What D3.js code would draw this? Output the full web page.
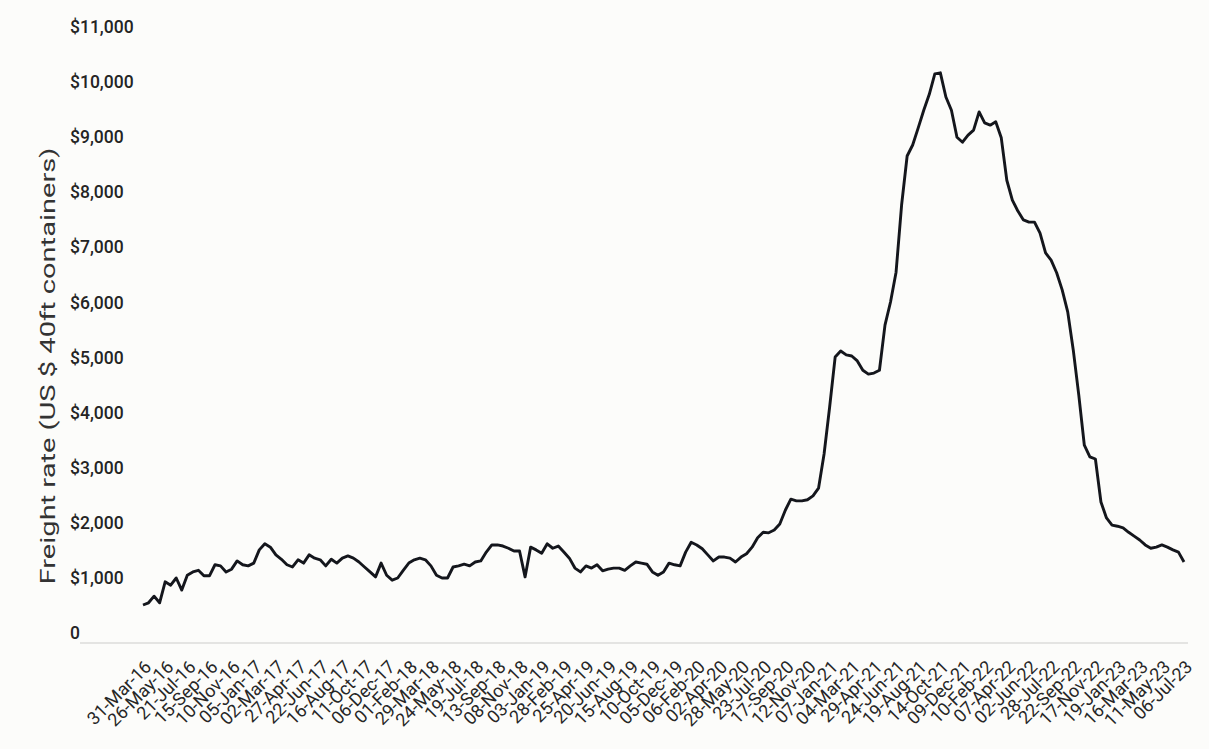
<!DOCTYPE html>
<html>
<head>
<meta charset="utf-8">
<script src="https://cdn.jsdelivr.net/npm/d3@7"></script>
<style>
  body { margin: 0; background: #fcfcfa; }
  svg { display: block; font-family: Roboto, "Noto Sans", sans-serif; }
</style>
</head>
<body>
<div id="chart"></div>
<script>
// Tick labels of the category axis (one every 8 weeks)
var tickLabels = ['31-Mar-16','26-May-16','21-Jul-16','15-Sep-16','10-Nov-16','05-Jan-17','02-Mar-17','27-Apr-17',
  '22-Jun-17','16-Aug-17','11-Oct-17','06-Dec-17','01-Feb-18','29-Mar-18','24-May-18','19-Jul-18',
  '13-Sep-18','08-Nov-18','03-Jan-19','28-Feb-19','25-Apr-19','20-Jun-19','15-Aug-19','10-Oct-19',
  '05-Dec-19','06-Feb-20','02-Apr-20','28-May-20','23-Jul-20','17-Sep-20','12-Nov-20','07-Jan-21',
  '04-Mar-21','29-Apr-21','24-Jun-21','19-Aug-21','14-Oct-21','09-Dec-21','10-Feb-22','07-Apr-22',
  '02-Jun-22','28-Jul-22','22-Sep-22','17-Nov-22','19-Jan-23','16-Mar-23','11-May-23','06-Jul-23'];

// Freight rate, US $ per 40ft container, read every two weeks off the chart
var rates = [
  690, 730, 850, 730, 1110, 1050, 1180, 960, 1230, 1290, 1320, 1220, 1220, 1420, 1400, 1290,
  1340, 1490, 1420, 1400, 1450, 1690, 1800, 1740, 1600, 1520, 1420, 1380, 1510, 1450, 1600, 1540,
  1510, 1400, 1520, 1450, 1540, 1580, 1540, 1470, 1380, 1290, 1200, 1450, 1230, 1140, 1180, 1320,
  1450, 1510, 1540, 1510, 1400, 1230, 1180, 1180, 1380, 1400, 1430, 1400, 1470, 1490, 1650, 1780,
  1780, 1760, 1720, 1670, 1670, 1200, 1740, 1690, 1630, 1800, 1720, 1760, 1650, 1540, 1360, 1290,
  1400, 1360, 1420, 1310, 1340, 1360, 1360, 1320, 1400, 1470, 1450, 1430, 1290, 1230, 1290, 1450,
  1420, 1400, 1650, 1830, 1780, 1710, 1600, 1490, 1560, 1560, 1540, 1470, 1560, 1620, 1740, 1910,
  2010, 2000, 2050, 2160, 2410, 2610, 2580, 2580, 2600, 2670, 2810, 3430, 4280, 5190, 5300, 5230,
  5210, 5120, 4950, 4880, 4900, 4950, 5770, 6190, 6730, 7950, 8840, 9040, 9350, 9670, 9960, 10330,
  10350, 9910, 9670, 9180, 9090, 9220, 9310, 9640, 9440, 9400, 9460, 9170, 8400, 8040, 7840, 7680,
  7640, 7640, 7440, 7080, 6950, 6720, 6410, 6010, 5320, 4500, 3590, 3380, 3340, 2560, 2270, 2140,
  2120, 2090, 2010, 1940, 1870, 1780, 1720, 1740, 1780, 1740, 1690, 1650, 1470];

var yTicks = [0, 1000, 2000, 3000, 4000, 5000, 6000, 7000, 8000, 9000, 10000, 11000];
var yTitle = 'Freight rate (US $ 40ft containers)';

// Tamanho do svg
var w = 1209, h = 749;
var plot = {left: 143, right: 1184, top: 37, bottom: 643};

var svg = d3.select('#chart')
  .append('svg')
  .attr('width', w)
  .attr('height', h);

// Scales
var x = d3.scaleLinear()
  .domain([0, rates.length - 1])
  .range([plot.left, plot.right]);

var y = d3.scaleLinear()
  .domain([0, 11000])
  .range([plot.bottom, plot.top]);

var step = (rates.length - 1) / (tickLabels.length - 1);

// Eixo y (labels left aligned, no ticks)
var fmt = d3.format('$,');
var yAxis = d3.axisLeft(y)
  .tickValues(yTicks)
  .tickSize(0)
  .tickFormat(function(d) { return d === 0 ? '0' : fmt(d); });

var gy = svg.append('g')
  .attr('transform', 'translate(70,0)')
  .call(yAxis);
gy.select('.domain').remove();
gy.selectAll('text')
  .attr('x', 0)
  .attr('dy', '-0.25em')
  .attr('text-anchor', 'start')
  .attr('font-family', 'Roboto')
  .attr('font-size', '17.5px')
  .attr('font-weight', 500)
  .attr('fill', '#242424');

// Baseline
svg.append('line')
  .attr('x1', 80)
  .attr('x2', 1188)
  .attr('y1', y(0))
  .attr('y2', y(0))
  .attr('stroke', '#e4e4e2')
  .attr('stroke-width', 2);

// Eixo x
var xAxis = d3.axisBottom(x)
  .tickValues(d3.range(tickLabels.length).map(function(i) { return i * step; }))
  .tickSize(0)
  .tickFormat(function(d) { return tickLabels[Math.round(d / step)]; });

var gx = svg.append('g')
  .attr('transform', 'translate(0,' + y(0) + ')')
  .call(xAxis);
gx.select('.domain').remove();
gx.selectAll('text')
  .attr('y', 0)
  .attr('dy', 0)
  .attr('text-anchor', 'end')
  .attr('transform', 'translate(9,25) rotate(-45)')
  .attr('font-family', 'Roboto')
  .attr('font-size', '18px')
  .attr('fill', '#262626');

// Linha
var line = d3.line()
  .x(function(d, i) { return x(i); })
  .y(function(d) { return y(d); });

svg.append('path')
  .datum(rates)
  .attr('d', line)
  .attr('fill', 'none')
  .attr('stroke', '#14161c')
  .attr('stroke-width', 2.9)
  .attr('stroke-linejoin', 'round');

// Titulo do eixo y (glyphs stretched along the text, like the original)
var title = svg.append('text')
  .attr('text-anchor', 'middle')
  .attr('font-family', 'Roboto')
  .attr('font-size', '21px')
  .attr('fill', '#333')
  .text(yTitle);
var stretch = 437 / title.node().getComputedTextLength();
title.attr('transform', 'translate(55,366) rotate(-90) scale(' + stretch + ',1)');
</script>
</body>
</html>
